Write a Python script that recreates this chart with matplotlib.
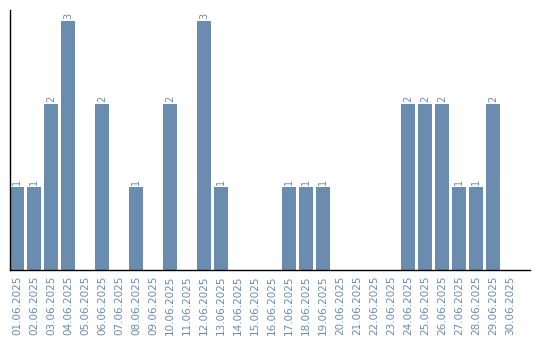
import matplotlib
matplotlib.use('Agg')
import matplotlib.pyplot as plt
import numpy as np

# Daily counts for June 2025
days = [f"{d:02d}.06.2025" for d in range(1, 31)]
counts = [1, 1, 2, 3, 0, 2, 0, 1, 0, 2,
          0, 3, 1, 0, 0, 0, 1, 1, 1, 0,
          0, 0, 0, 2, 2, 2, 1, 1, 2, 0]

bar_color = '#6a8caf'

fig = plt.figure(figsize=(5.4, 3.4), dpi=100)
ax = fig.add_axes([10 / 540, 1 - 270 / 340, 520 / 540, 260 / 340])

x = np.arange(len(days))
width = 14 / 17
ax.bar(x, counts, width=width, align='edge', color=bar_color)

# value labels on top of non-zero bars
for xi, c in zip(x, counts):
    if c > 0:
        ax.text(xi + width / 2, c + 0.02, str(c), rotation=90, ha='center', va='bottom',
                fontsize=7, color=bar_color)

ax.set_xlim(0, 520 / 17)
ax.set_ylim(0, 260 / 83)
ax.set_xticks(x + width / 2)
ax.set_xticklabels(days, rotation=90, fontsize=7.5, color=bar_color)
ax.tick_params(axis='x', length=0, pad=4)
ax.set_yticks([])

for side in ['top', 'right']:
    ax.spines[side].set_visible(False)
ax.spines['left'].set_linewidth(1)
ax.spines['bottom'].set_linewidth(1)

fig.savefig('out.png', dpi=100)
